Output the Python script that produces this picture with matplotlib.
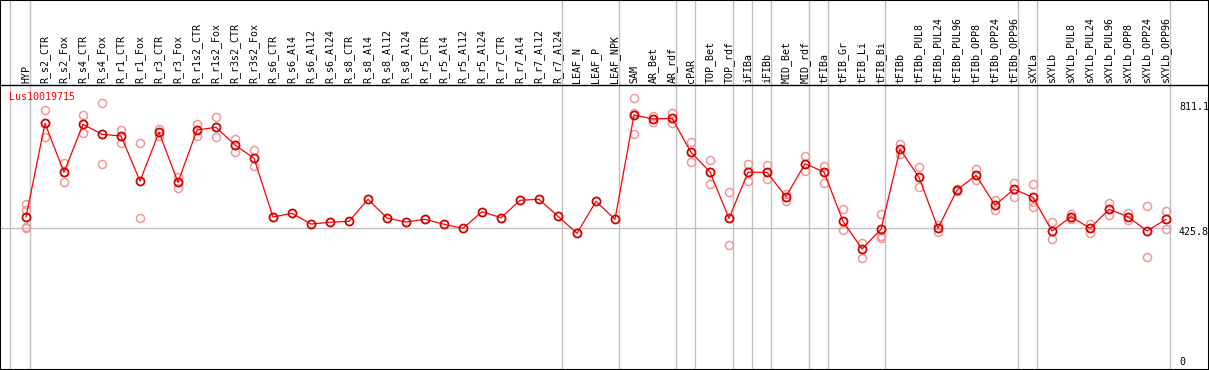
import numpy as np
import matplotlib.pyplot as plt

#=========================================================
#                  data
#=========================================================
gene = 'Lus10019715'

samples = ['HYP', 'R_s2_CTR', 'R_s2_Fox', 'R_s4_CTR', 'R_s4_Fox', 'R_r1_CTR',
           'R_r1_Fox', 'R_r3_CTR', 'R_r3_Fox', 'R_r1s2_CTR', 'R_r1s2_Fox',
           'R_r3s2_CTR', 'R_r3s2_Fox', 'R_s6_CTR', 'R_s6_Al4', 'R_s6_Al12',
           'R_s6_Al24', 'R_s8_CTR', 'R_s8_Al4', 'R_s8_Al12', 'R_s8_Al24',
           'R_r5_CTR', 'R_r5_Al4', 'R_r5_Al12', 'R_r5_Al24', 'R_r7_CTR',
           'R_r7_Al4', 'R_r7_Al12', 'R_r7_Al24', 'LEAF_N', 'LEAF_P', 'LEAF_NPK',
           'SAM', 'AR_Bet', 'AR_rdf', 'cPAR', 'TOP_Bet', 'TOP_rdf', 'iFIBa',
           'iFIBb', 'MID_Bet', 'MID_rdf', 'tFIBa', 'tFIB_Gr', 'tFIB_Li',
           'tFIB_Bi', 'tFIBb', 'tFIBb_PUL8', 'tFIBb_PUL24', 'tFIBb_PUL96',
           'tFIBb_OPP8', 'tFIBb_OPP24', 'tFIBb_OPP96', 'sXYLa', 'sXYLb',
           'sXYLb_PUL8', 'sXYLb_PUL24', 'sXYLb_PUL96', 'sXYLb_OPP8',
           'sXYLb_OPP24', 'sXYLb_OPP96']

#mean expression per sample
means = [460, 743.6, 595.3, 740.6, 710.3, 705.2, 569, 716.4, 565, 723.3, 731.5,
         677.9, 637.7, 460, 471.2, 438.8, 444, 447, 513.6, 457, 444.9,
         453, 437.9, 425.8, 476, 457.9, 510.5, 513.6, 462.1, 410.7, 507.5, 453,
         768.7, 756.6, 758.7, 655.8, 596.2, 456, 595.3, 595.3, 521.5, 621.4,
         596.2, 447, 363.2, 422.8, 664.9, 580.2, 425.8, 541.7, 586.2, 496.3,
         543.8, 519.6, 417.6, 460.9, 425.8, 483.3, 460.9, 417.6, 453]

#replicate values per sample
reps = [[499, 481, 431, 426], [782.9, 701.2], [624.3, 566.8], [767.8, 713.3],
        [804.1, 619.5], [723.3, 684.9], [683, 456], [727.3, 705.2],
        [582, 546.9], [741.5, 705.2], [761.7, 701.2], [697, 655.8],
        [662.8, 613.5], [], [], [], [], [], [], [], [],
        [], [], [], [], [], [], [], [], [], [], [],
        [819.3, 773.9, 711.2], [765.7, 746.6], [773.9, 743.6], [686, 625.6],
        [632.5, 559.9], [534.8, 375.3], [620.4, 569.9], [617.4, 574.1],
        [529.6, 509.4], [644.6, 600.2], [614.4, 562], [483.3, 420.7],
        [380.4, 335], [468.2, 402.5, 395.5], [681, 650.7], [612.2, 549.9],
        [435.8, 415.5], [546, 538], [604.4, 572], [511.5, 481.2],
        [563.8, 521.5], [559, 506.3, 489.4], [444, 392.5], [468.2, 453],
        [438.8, 410.7], [501.5, 465.2], [471.2, 450.9], [493.3, 339.9],
        [478.2, 424.6]]

#indices of last sample in each group (grey separators)
group_end = [0, 28, 31, 34, 35, 37, 38, 39, 41, 42, 45, 52, 53, 60]

ref_val = 425.8
max_lab = '811.1'

#=========================================================
#                  Plot
#=========================================================
W, H = 1209, 370
fig = plt.figure(figsize=(W/100, H/100), dpi=100)
ax = fig.add_axes([0, 0, 1, 1])

#pixel layout: sample i at x = 26 + 19*i ; value v at y = 369 - v/3.0264
x0, dx = 26., 19.
ky = 3.0264
ax.set_xlim(-x0/dx, (W - x0)/dx)
ax.set_ylim((369 - H)*ky, 369*ky)
def px2x(p):
    return (p - x0)/dx
def py2v(p):
    return (369 - p)*ky

font = dict(family='DejaVu Sans Mono', fontsize=7.2)
grey = '#c0c0c0'

#grid lines
ax.axvline(px2x(10), color=grey, lw=1, zorder=1)
for g in group_end:
    ax.axvline(g + 0.22, color=grey, lw=1, zorder=1)
ax.plot([px2x(0), px2x(1170.5)], [ref_val, ref_val], color=grey, lw=1, zorder=1)
ax.axhline(py2v(85), color='k', lw=1, zorder=3)

#sample labels
for i, s in enumerate(samples):
    ax.text(i, py2v(83), s, rotation=90, ha='center', va='bottom', **font)

#replicates, line, means
aX = np.arange(len(samples))
for i, r in enumerate(reps):
    if len(r) == 0:
        continue
    ax.plot([i]*len(r), r, 'o', ms=5.8, mfc='none', mec='#f09898', mew=1.1, zorder=2)
ax.plot(aX, means, '-', color='#ff0000', lw=0.9, zorder=4)
ax.plot(aX, means, 'o', ms=5.8, mfc='none', mec='#d00000', mew=1.3, zorder=5)

#labels
ax.text(px2x(9), py2v(96.7), gene, color='#ff0000', ha='left', va='center', **font)
ax.text(px2x(1179), py2v(107), max_lab, ha='left', va='center', **font)
ax.text(px2x(1179), py2v(232), '%.1f' % ref_val, ha='left', va='center', **font)
ax.text(px2x(1179), py2v(362), '0', ha='left', va='center', **font)

ax.set_xticks([])
ax.set_yticks([])
for sp in ax.spines.values():
    sp.set_color('k')
    sp.set_linewidth(1.5)

fig.savefig('out.png', dpi=100)
